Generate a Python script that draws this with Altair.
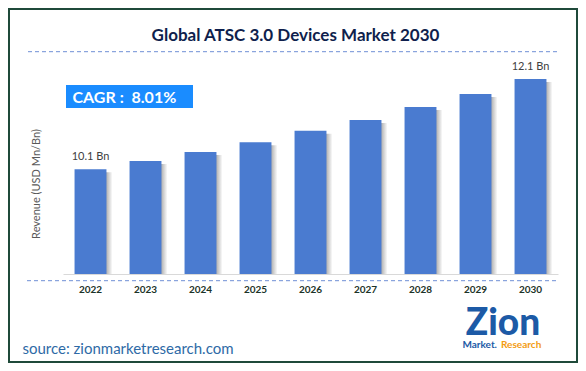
import altair as alt
import pandas as pd

# ---- data ----
years = ["2022", "2023", "2024", "2025", "2026", "2027", "2028", "2029", "2030"]
revenue = [10.10, 10.28, 10.48, 10.70, 10.95, 11.19, 11.48, 11.77, 12.10]
bar_labels = ["10.1 Bn", "", "", "", "", "", "", "", "12.1 Bn"]
axis_min = 7.77
axis_max = 13.68

title_text = "Global ATSC 3.0 Devices Market 2030"
cagr_text = "CAGR : \u00a08.01%"
y_title = "Revenue (USD Mn/Bn)"
source_text = "source: zionmarketresearch.com"
logo_main = "Zion"
logo_left = "Market."
logo_right = "Research"

df = pd.DataFrame({"year": years, "revenue": revenue, "label": bar_labels})

FONT = "Lato"
BAR = "#4a7bd0"

x = alt.X(
    "year:N",
    sort=years,
    scale=alt.Scale(paddingInner=0.42, paddingOuter=0.21),
    axis=alt.Axis(
        title=None, labelAngle=0, ticks=False, domainColor="#d9d9d9", domainWidth=1,
        labelPadding=10, labelFont=FONT, labelFontSize=10, labelFontWeight="bold",
        labelColor="#1c3328",
    ),
)
y = alt.Y("revenue:Q", scale=alt.Scale(domain=[axis_min, axis_max], zero=False, nice=False), axis=None)
y2 = alt.datum(axis_min)

base = alt.Chart(df)

shadow = base.mark_bar(
    xOffset=6, yOffset=3,
    color=alt.Gradient(
        gradient="linear", x1=0, x2=1, y1=0, y2=0,
        stops=[
            alt.GradientStop(color="#8c8c8c", offset=0),
            alt.GradientStop(color="#8c8c8c", offset=0.72),
            alt.GradientStop(color="#ffffff", offset=1),
        ],
    ),
).encode(x=x, y=y, y2=y2)

bars = base.mark_bar(color=BAR).encode(x=x, y=y, y2=y2)

labels = base.mark_text(
    dy=-9, baseline="alphabetic", font=FONT, fontSize=11, color="#404040"
).encode(x=x, y=y, text="label:N")


def one(s):
    return alt.Chart(pd.DataFrame({"t": [s]}))


def txt(s, px, py, **kw):
    return one(s).mark_text(**kw).encode(x=alt.value(px), y=alt.value(py), text="t:N")


def hline(x1, x2, yy, **kw):
    return one("").mark_rule(**kw).encode(x=alt.value(x1), x2=alt.value(x2), y=alt.value(yy))


border = one("").mark_rect(fillOpacity=0, stroke="#1f4a3a", strokeWidth=2).encode(
    x=alt.value(-54), x2=alt.value(514), y=alt.value(1), y2=alt.value(354)
)

title = txt(title_text, 232.5, 33, font=FONT, fontSize=17, fontWeight="bold",
            color="#0f1f4d", align="center", baseline="alphabetic")
title_dash = hline(-35, 494, 43.7, color="#6f8fd6", strokeDash=[4, 3], strokeWidth=1)

cagr_box = one("").mark_rect(color="#1a8cff").encode(
    x=alt.value(3), x2=alt.value(130), y=alt.value(77), y2=alt.value(100)
)
cagr = txt(cagr_text, 9.5, 94.7, font=FONT, fontSize=16, fontWeight="bold",
           color="white", align="left", baseline="alphabetic")

ytitle = txt(y_title, -26, 176, font=FONT, fontSize=11, color="#595959",
             angle=270, align="center", baseline="middle")

bottom_dash = hline(-36, 494, 272.7, color="#6f8fd6", strokeDash=[4, 3], strokeWidth=1)

source = txt(source_text, -40.5, 346, font=FONT, fontSize=15, color="#2e6aa6",
             align="left", baseline="alphabetic")

logo = txt(logo_main, 440, 327, font=FONT, fontSize=37, fontWeight=900,
           color="#1c5aa6", align="center", baseline="alphabetic")
logo_l = txt(logo_left, 434, 340, font=FONT, fontSize=10, fontWeight="bold",
             color="#1c5aa6", align="right", baseline="alphabetic")
logo_r = txt(logo_right, 438, 340, font=FONT, fontSize=10, fontWeight="bold",
             color="#f39c12", align="left", baseline="alphabetic")

chart = alt.layer(
    border, title, title_dash, cagr_box, cagr, ytitle, bottom_dash,
    shadow, bars, labels, source, logo, logo_l, logo_r,
).properties(
    width=495, height=266,
    padding={"left": 55, "top": 0, "right": 20, "bottom": 89},
    autosize=alt.AutoSizeParams(type="none"),
    background="white",
).configure_view(stroke=None)

chart.save("out.html", embed_options={"renderer": "svg", "actions": False})
